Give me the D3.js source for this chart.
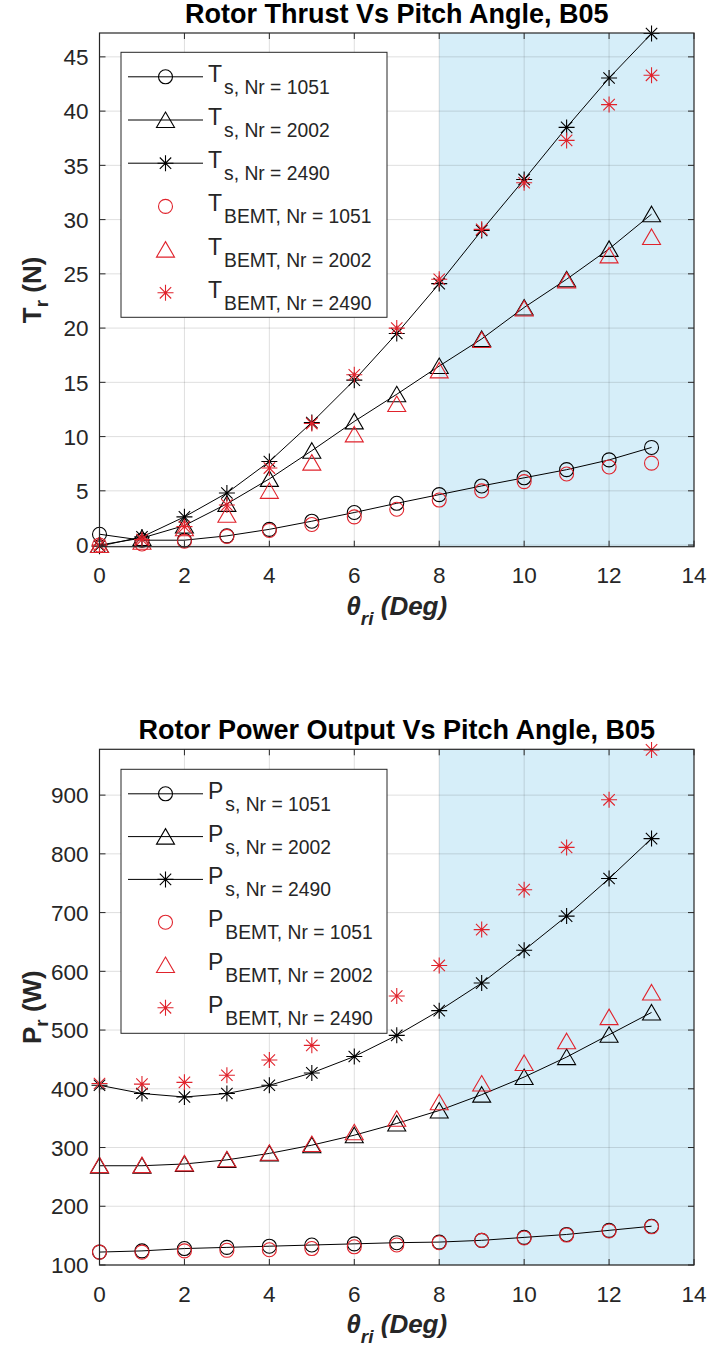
<!DOCTYPE html>
<html>
<head>
<meta charset="utf-8">
<script src="https://cdn.jsdelivr.net/npm/d3@7"></script>
<style>
  html, body { margin: 0; padding: 0; background: #fff; }
  svg { display: block; font-family: "Liberation Sans", Arial, Helvetica, sans-serif; }
</style>
</head>
<body>
<svg id="chart" width="712" height="1354"></svg>
<script>
// pitch angle, deg
var pitch = [0, 1, 2, 3, 4, 5, 6, 7, 8, 9, 10, 11, 12, 13];

// rotor thrust, N
var thrustS1051 = [1.0, 0.45, 0.45, 0.85, 1.45, 2.2, 3.0, 3.85, 4.65, 5.45, 6.2, 6.95, 7.85, 9.0];
var thrustS2002 = [0.0, 0.65, 1.8, 3.8, 6.1, 8.7, 11.4, 13.9, 16.5, 19.0, 21.9, 24.5, 27.3, 30.5];
var thrustS2490 = [-0.1, 0.75, 2.6, 4.8, 7.7, 11.3, 15.2, 19.5, 24.1, 29.0, 33.7, 38.5, 43.05, 47.15];
var thrustB1051 = [0.0, 0.1, 0.35, 0.8, 1.35, 1.9, 2.6, 3.3, 4.15, 5.0, 5.85, 6.55, 7.2, 7.55];
var thrustB2002 = [0.0, 0.3, 1.55, 2.8, 5.0, 7.6, 10.2, 13.0, 16.1, 18.9, 21.8, 24.4, 26.7, 28.4];
var thrustB2490 = [0.0, 0.5, 1.7, 3.7, 7.1, 11.2, 15.7, 20.0, 24.5, 29.1, 33.4, 37.3, 40.6, 43.3];

// rotor power output, W
var powerS1051 = [122, 124, 128, 130, 132, 134, 136, 138, 139, 142, 147, 152, 159, 166];
var powerS2002 = [269, 269, 272, 279, 290, 304, 321, 341, 363, 390, 420, 454, 492, 530];
var powerS2490 = [406, 392, 386, 392, 406, 427, 455, 491, 533, 580, 636, 694, 758, 826];
var powerB1051 = [122, 122, 124, 125, 126, 128, 131, 134, 138, 142, 146, 151, 158, 165];
var powerB2002 = [270, 270, 273, 280, 291, 306, 326, 349, 377, 409, 444, 481, 522, 564];
var powerB2490 = [409, 408, 411, 423, 449, 474, 512, 558, 610, 671, 739, 811, 892, 977];

// ticks and labels
var xTicks = [0, 2, 4, 6, 8, 10, 12, 14];
var thrustTicks = [0, 5, 10, 15, 20, 25, 30, 35, 40, 45];
var powerTicks = [100, 200, 300, 400, 500, 600, 700, 800, 900];
var seriesNr = ["1051", "2002", "2490", "1051", "2002", "2490"];
var seriesKind = ["s", "s", "s", "BEMT", "BEMT", "BEMT"];
var seriesMarker = ["circle", "triangle", "star", "circle", "triangle", "star"];
var shadeFrom = 8;

var INK = "#262626", RED = "#e0232c";
var svg = d3.select("#chart");

//
// marker path centred on 0,0
function markerPath(kind) {
  if(kind === "circle") { return "M-7,0A7,7 0 1,0 7,0A7,7 0 1,0 -7,0Z"; }
  if(kind === "triangle") { return "M0,-8L9,7.5L-9,7.5Z"; }
  var a = 8, b = 5.7;
  return "M0,-" + a + "V" + a + "M-" + a + ",0H" + a +
    "M-" + b + ",-" + b + "L" + b + "," + b + "M-" + b + "," + b + "L" + b + ",-" + b;
}

//
// one panel: shading, grid, series, box, ticks, legend, labels
function panel(cfg) {
  var g = svg.append("g"),
      x = d3.scaleLinear().domain([0, 14]).range([99.5, 694]),
      y = d3.scaleLinear().domain(cfg.yDomain).range([cfg.bottom, cfg.top]),
      x0 = x.range()[0], x1 = x.range()[1];

  g.append("rect")
    .attr("x", x(shadeFrom)).attr("y", cfg.top)
    .attr("width", x1 - x(shadeFrom)).attr("height", cfg.bottom - cfg.top)
    .attr("fill", "#d6eef9");

  // grid
  g.selectAll("line.gx").data(xTicks.slice(1, -1)).enter().append("line")
    .attr("x1", x).attr("x2", x).attr("y1", cfg.top).attr("y2", cfg.bottom)
    .attr("stroke", INK).attr("stroke-opacity", 0.15);
  g.selectAll("line.gy").data(cfg.ticks).enter().append("line")
    .attr("y1", y).attr("y2", y).attr("x1", x0).attr("x2", x1)
    .attr("stroke", INK).attr("stroke-opacity", 0.15);

  // series
  var line = d3.line().x((d) => x(d[0])).y((d) => y(d[1]));
  cfg.series.forEach(function(vals, i) {
    var pts = pitch.map((p, k) => [p, vals[k]]),
        col = i < 3 ? "#000" : RED;
    if(i < 3) {
      g.append("path").attr("d", line(pts))
        .attr("fill", "none").attr("stroke", "#000").attr("stroke-width", 1);
    }
    g.selectAll(null).data(pts).enter().append("path")
      .attr("d", markerPath(seriesMarker[i]))
      .attr("transform", (d) => "translate(" + x(d[0]) + "," + y(d[1]) + ")")
      .attr("fill", "none").attr("stroke", col).attr("stroke-width", 1.1);
  });

  // box and inward ticks
  g.append("rect").attr("x", x0).attr("y", cfg.top)
    .attr("width", x1 - x0).attr("height", cfg.bottom - cfg.top)
    .attr("fill", "none").attr("stroke", INK).attr("stroke-width", 1.2);
  var tl = 6;
  xTicks.forEach(function(t) {
    g.append("line").attr("x1", x(t)).attr("x2", x(t))
      .attr("y1", cfg.bottom).attr("y2", cfg.bottom - tl).attr("stroke", INK);
    g.append("line").attr("x1", x(t)).attr("x2", x(t))
      .attr("y1", cfg.top).attr("y2", cfg.top + tl).attr("stroke", INK);
    g.append("text").attr("x", x(t)).attr("y", cfg.bottom + 36.5)
      .attr("text-anchor", "middle").attr("font-size", 22.5).attr("fill", INK).text(t);
  });
  cfg.ticks.forEach(function(t) {
    g.append("line").attr("x1", x0).attr("x2", x0 + tl)
      .attr("y1", y(t)).attr("y2", y(t)).attr("stroke", INK);
    g.append("line").attr("x1", x1).attr("x2", x1 - tl)
      .attr("y1", y(t)).attr("y2", y(t)).attr("stroke", INK);
    g.append("text").attr("x", x0 - 11).attr("y", y(t) + 8.2)
      .attr("text-anchor", "end").attr("font-size", 22.5).attr("fill", INK).text(t);
  });

  // legend
  var lg = g.append("g");
  lg.append("rect").attr("x", 121).attr("y", cfg.legTop)
    .attr("width", 266).attr("height", cfg.legH)
    .attr("fill", "#fff").attr("stroke", INK).attr("stroke-width", 1);
  seriesKind.forEach(function(kind, i) {
    var ry = cfg.legTop + 24.5 + i * cfg.legStep,
        col = i < 3 ? "#000" : RED;
    if(i < 3) {
      lg.append("line").attr("x1", 128).attr("x2", 203)
        .attr("y1", ry).attr("y2", ry).attr("stroke", "#000");
    }
    lg.append("path").attr("d", markerPath(seriesMarker[i]))
      .attr("transform", "translate(165.5," + ry + ")")
      .attr("fill", "none").attr("stroke", col).attr("stroke-width", 1.1);
    var t = lg.append("text").attr("x", 208).attr("y", ry + 5)
      .attr("font-size", 23).attr("fill", INK).text(cfg.sym);
    t.append("tspan").attr("dx", 2).attr("dy", 12).attr("font-size", 19.3)
      .text(kind + ", Nr = " + seriesNr[i]);
  });

  // title
  g.append("text").attr("x", (x0 + x1) / 2).attr("y", cfg.top - 10)
    .attr("text-anchor", "middle").attr("font-size", 27).attr("font-weight", "bold")
    .attr("fill", "#000").text(cfg.title);

  // x label
  var xl = g.append("text").attr("x", (x0 + x1) / 2).attr("y", cfg.bottom + 68)
    .attr("text-anchor", "middle").attr("font-size", 26).attr("font-weight", "bold")
    .attr("font-style", "italic").attr("fill", INK).text("\u03b8");
  xl.append("tspan").attr("dy", 10).attr("font-size", 19).text("ri");
  xl.append("tspan").attr("dy", -10).text(" (Deg)");

  // y label
  var yl = g.append("text")
    .attr("transform", "translate(41," + (cfg.top + cfg.bottom) / 2 + ") rotate(-90)")
    .attr("text-anchor", "middle").attr("font-size", 26).attr("font-weight", "bold")
    .attr("fill", INK).text(cfg.sym);
  yl.append("tspan").attr("dy", 7).attr("font-size", 19).text("r");
  yl.append("tspan").attr("dy", -7).text(" " + cfg.unit);
}

panel({
  top: 33, bottom: 546.7, yDomain: [-0.15, 47.2], ticks: thrustTicks,
  series: [thrustS1051, thrustS2002, thrustS2490, thrustB1051, thrustB2002, thrustB2490],
  sym: "T", unit: "(N)", title: "Rotor Thrust Vs Pitch Angle, B05",
  legTop: 52.3, legH: 265, legStep: 43.2
});

panel({
  top: 749.3, bottom: 1265, yDomain: [100, 978], ticks: powerTicks,
  series: [powerS1051, powerS2002, powerS2490, powerB1051, powerB2002, powerB2490],
  sym: "P", unit: "(W)", title: "Rotor Power Output Vs Pitch Angle, B05",
  legTop: 769.3, legH: 264, legStep: 42.8
});
</script>
</body>
</html>
